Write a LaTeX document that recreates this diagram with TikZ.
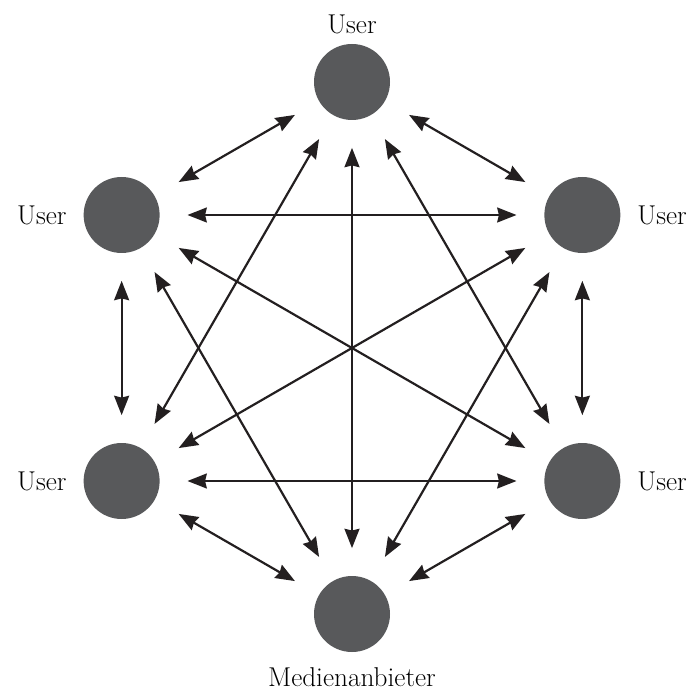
\documentclass[tikz,border=0pt]{standalone}
\usepackage{tikz}
\usetikzlibrary{arrows.meta}

\definecolor{dotgray}{HTML}{58595B}
\definecolor{arrowgray}{HTML}{231F20}

\begin{document}
\begin{tikzpicture}[
    every node/.style={font=\fontsize{15.5}{18}\selectfont},
    >={Stealth[length=11pt, width=8.5pt, inset=1pt]},
    dot/.style={circle, fill=dotgray, minimum size=1.52cm, inner sep=0pt},
    link/.style={<->, line width=1.25pt, arrowgray, shorten <=0.55cm, shorten >=0.55cm}
]

% --- Bounding box (690 x 690 px) ---
\useasboundingbox (-7.04,-6.84) rectangle (6.76,6.96);

% --- Participants on a hexagon ---
\node[dot] (top) at (90:5.32) {};
\node[dot] (ur)  at (30:5.32) {};
\node[dot] (lr)  at (-30:5.32) {};
\node[dot] (bot) at (-90:5.32) {};
\node[dot] (ll)  at (210:5.32) {};
\node[dot] (ul)  at (150:5.32) {};

% --- Labels ---
\node[above=2pt] (toptext) at (top.north) {User};
\node[right=6pt] (urtext)  at (ur.east) {User};
\node[right=6pt] (lrtext)  at (lr.east) {User};
\node[left=6pt]  (ultext)  at (ul.west) {User};
\node[left=6pt]  (lltext)  at (ll.west) {User};
\node[below=5pt] (bottext) at (bot.south) {Medienanbieter};

% --- Connections between every pair ---
\foreach \a/\b in {top/ur, top/lr, top/bot, top/ll, top/ul,
                   ur/lr, ur/bot, ur/ll, ur/ul,
                   lr/bot, lr/ll, lr/ul,
                   bot/ll, bot/ul,
                   ll/ul} {
    \draw[link] (\a) -- (\b);
}

\end{tikzpicture}
\end{document}
